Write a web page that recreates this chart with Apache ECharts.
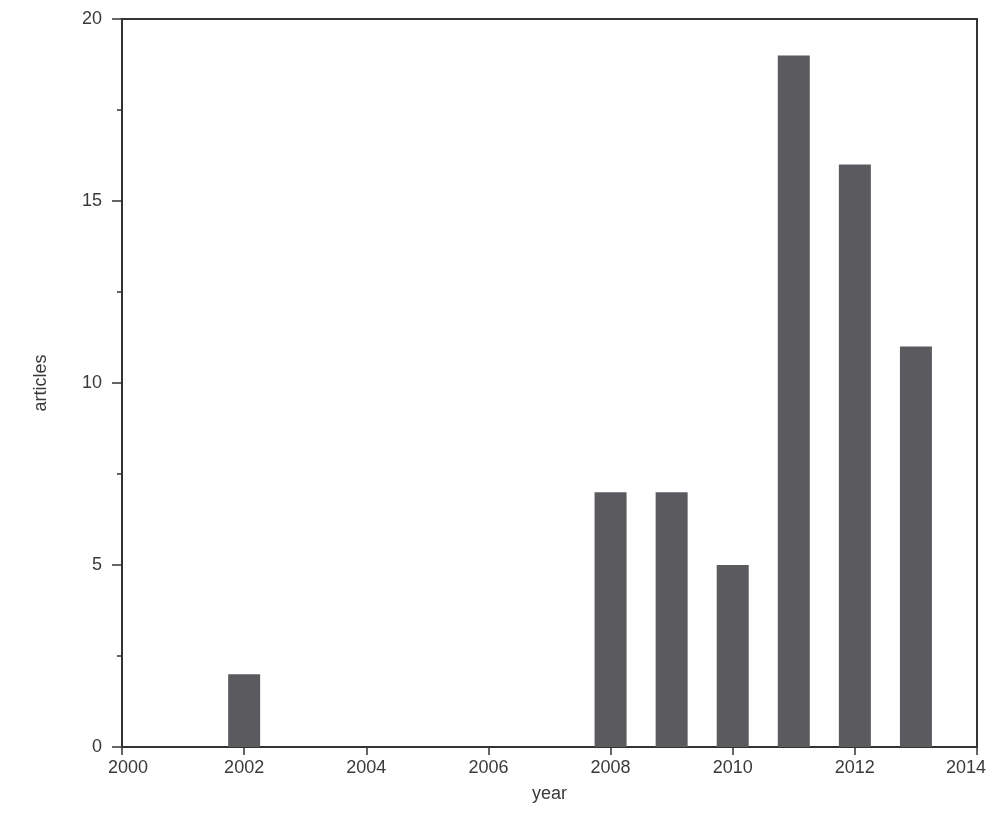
<!DOCTYPE html>
<html>
<head>
<meta charset="utf-8">
<script src="https://cdn.jsdelivr.net/npm/echarts@6/dist/echarts.min.js"></script>
<style>html,body{margin:0;padding:0;background:#fff}#c{width:994px;height:821px}</style>
</head>
<body>
<div id="c"></div>
<script>
var years = [2002, 2008, 2009, 2010, 2011, 2012, 2013];
var articles = [2, 7, 7, 5, 19, 16, 11];
var xTicks = [2000, 2002, 2004, 2006, 2008, 2010, 2012, 2014];
var yTicks = [0, 5, 10, 15, 20];

var chart = echarts.init(document.getElementById('c'), null, {renderer: 'canvas'});
var font = 'Liberation Sans, Arial, sans-serif';
var lblStyle = {color: '#3a3a3a', fontSize: 18, fontFamily: font};
chart.setOption({
  animation: false,
  backgroundColor: '#fff',
  grid: {left: 122, right: 17, top: 19, bottom: 74, containLabel: false, outerBoundsMode: 'none',
    show: true, borderColor: '#333', borderWidth: 2, backgroundColor: 'transparent'},
  xAxis: {
    type: 'value', min: xTicks[0], max: xTicks[xTicks.length - 1], interval: 2,
    name: 'year', nameLocation: 'middle', nameGap: 38,
    nameTextStyle: lblStyle,
    axisLine: {show: true, lineStyle: {color: '#333', width: 2}},
    axisTick: {show: true, inside: false, length: 8, lineStyle: {color: '#333', width: 1.5}},
    axisLabel: {color: '#3a3a3a', fontSize: 18, fontFamily: font, margin: 12,
      formatter: function (v) {
        if (v === xTicks[0]) return '{first|' + v + '}';
        if (v === xTicks[xTicks.length - 1]) return '{last|' + v + '}';
        return String(v);
      },
      rich: {
        first: {color: '#3a3a3a', fontSize: 18, fontFamily: font, padding: [0, 0, 0, 12]},
        last: {color: '#3a3a3a', fontSize: 18, fontFamily: font, padding: [0, 22, 0, 0]}
      }
    },
    splitLine: {show: false}
  },
  yAxis: {
    type: 'value', min: yTicks[0], max: yTicks[yTicks.length - 1], interval: 5,
    name: 'articles', nameLocation: 'middle', nameGap: 72,
    nameTextStyle: lblStyle,
    axisLine: {show: true, lineStyle: {color: '#333', width: 2}},
    axisTick: {show: true, inside: false, length: 10, lineStyle: {color: '#333', width: 1.5}},
    minorTick: {show: true, splitNumber: 2, length: 5, lineStyle: {color: '#333', width: 1.5}},
    axisLabel: {color: '#3a3a3a', fontSize: 18, fontFamily: font, margin: 20,
      formatter: function (v) { return String(v); }},
    splitLine: {show: false}
  },
  series: [{
    type: 'bar',
    data: years.map(function (y, i) { return [y, articles[i]]; }),
    barWidth: 32,
    itemStyle: {color: '#5b5b5f'}
  }]
});
</script>
</body>
</html>
